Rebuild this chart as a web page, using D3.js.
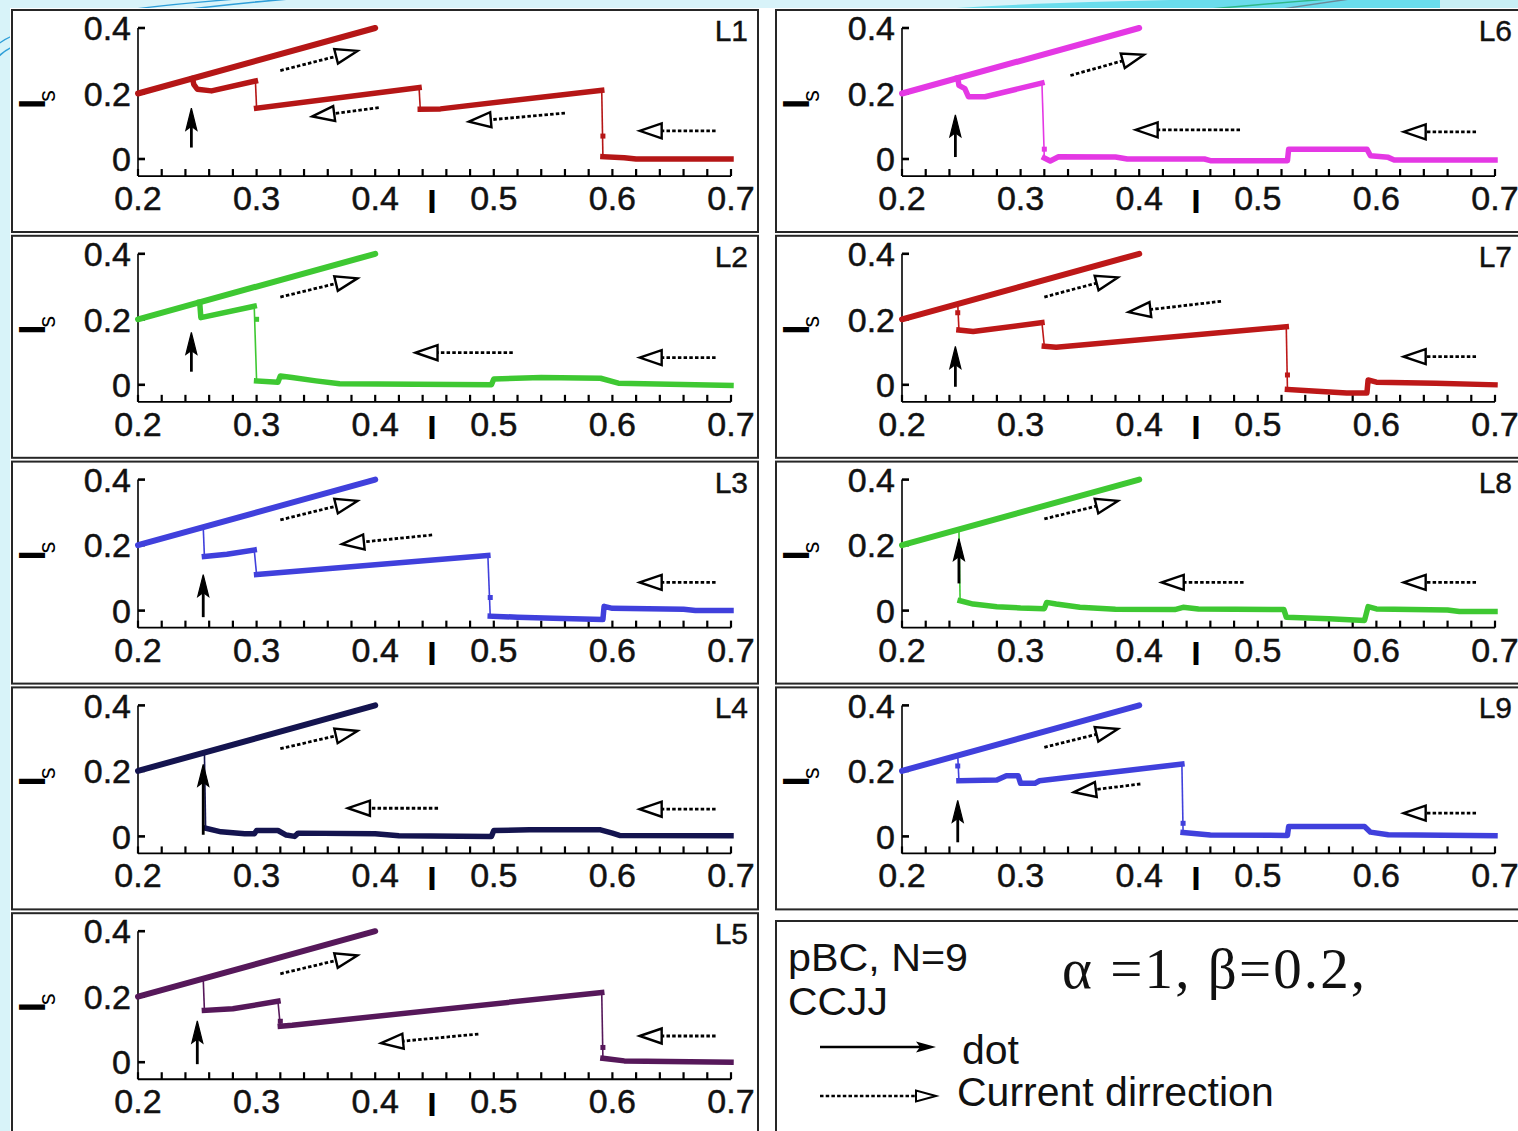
<!DOCTYPE html>
<html>
<head>
<meta charset="utf-8">
<script src="https://cdn.jsdelivr.net/npm/d3@7"></script>
<style>
  html, body { margin: 0; padding: 0; background: #d8f3f9; }
  svg { display: block; }
</style>
</head>
<body>
<svg id="fig" width="1518" height="1131"></svg>
<script>
// ---------------- data ----------------
const panelNames  = ["L1", "L2", "L3", "L4", "L5", "L6", "L7", "L8", "L9"];
const panelColors = ["#b51616", "#3ec832", "#4040dc", "#14144f", "#56185a", "#e438e4", "#bd1818", "#3ec832", "#4040dc"];

const xTicks = [0.2, 0.3, 0.4, 0.5, 0.6, 0.7];
const xTickLabels = ["0.2", "0.3", "0.4", "0.5", "0.6", "0.7"];
const xMinorStep = 0.02;
const yTicks = [0, 0.2, 0.4];
const yTickLabels = ["0", "0.2", "0.4"];

// forward sweep (current increasing), identical for every junction
const sweepUp = [[0.2, 0.2], [0.4, 0.4]];

// backward sweeps (current decreasing), listed in increasing I
const L1_sweepDown = [[0.246,0.246],[0.247,0.228],[0.25,0.213],[0.262,0.208],[0.299,0.238],[0.3,0.155],[0.437,0.218],[0.438,0.152],[0.455,0.153],[0.591,0.21],[0.592,0.007],[0.61,0.004],[0.62,0.0],[0.7,0.0]];
const L2_sweepDown = [[0.252,0.252],[0.253,0.205],[0.298,0.24],[0.3,0.012],[0.318,0.008],[0.32,0.027],[0.33,0.022],[0.35,0.012],[0.37,0.003],[0.498,0.0],[0.5,0.018],[0.54,0.022],[0.59,0.02],[0.605,0.005],[0.7,-0.002]];
const L3_sweepDown = [[0.255,0.255],[0.256,0.165],[0.275,0.172],[0.298,0.185],[0.3,0.11],[0.495,0.168],[0.497,-0.017],[0.52,-0.02],[0.55,-0.023],[0.592,-0.027],[0.593,0.013],[0.6,0.007],[0.66,0.004],[0.67,0.0],[0.7,0.0]];
const L4_sweepDown = [[0.256,0.256],[0.257,0.025],[0.27,0.014],[0.29,0.008],[0.298,0.008],[0.3,0.018],[0.318,0.018],[0.325,0.004],[0.332,0.0],[0.335,0.01],[0.4,0.008],[0.42,0.002],[0.498,0.0],[0.5,0.018],[0.53,0.02],[0.59,0.02],[0.6,0.01],[0.606,0.003],[0.7,0.002]];
const L5_sweepDown = [[0.255,0.255],[0.256,0.158],[0.28,0.163],[0.318,0.186],[0.32,0.11],[0.33,0.113],[0.591,0.213],[0.592,0.012],[0.61,0.004],[0.7,0.0]];
const L6_sweepDown = [[0.247,0.247],[0.248,0.225],[0.253,0.215],[0.256,0.19],[0.27,0.19],[0.318,0.232],[0.32,0.003],[0.325,-0.006],[0.332,0.007],[0.38,0.006],[0.39,0.0],[0.455,0.0],[0.46,-0.005],[0.525,-0.005],[0.526,0.03],[0.592,0.03],[0.595,0.01],[0.61,0.005],[0.615,-0.003],[0.7,-0.003]];
const L7_sweepDown = [[0.247,0.247],[0.248,0.167],[0.26,0.163],[0.318,0.19],[0.32,0.118],[0.33,0.115],[0.524,0.177],[0.525,-0.014],[0.55,-0.02],[0.575,-0.025],[0.592,-0.025],[0.593,0.015],[0.6,0.008],[0.65,0.005],[0.7,0.0]];
const L8_sweepDown = [[0.248,0.248],[0.249,0.03],[0.26,0.02],[0.28,0.012],[0.3,0.008],[0.32,0.006],[0.322,0.025],[0.33,0.02],[0.35,0.01],[0.38,0.004],[0.43,0.003],[0.437,0.01],[0.45,0.005],[0.522,0.003],[0.524,-0.02],[0.56,-0.025],[0.59,-0.03],[0.593,0.012],[0.6,0.005],[0.66,0.002],[0.67,-0.003],[0.7,-0.003]];
const L9_sweepDown = [[0.247,0.247],[0.248,0.17],[0.28,0.172],[0.288,0.185],[0.298,0.185],[0.3,0.162],[0.312,0.162],[0.316,0.17],[0.436,0.221],[0.437,0.012],[0.46,0.004],[0.525,0.003],[0.526,0.03],[0.59,0.03],[0.595,0.013],[0.61,0.005],[0.7,0.002]];

// single samples sitting on the switching lines
const L1_switchDots = [[0.592, 0.07]];
const L2_switchDots = [[0.3, 0.2]];
const L3_switchDots = [[0.497, 0.04]];
const L4_switchDots = [];
const L5_switchDots = [[0.592, 0.045], [0.32, 0.125]];
const L6_switchDots = [[0.32, 0.03]];
const L7_switchDots = [[0.247, 0.22], [0.525, 0.03]];
const L8_switchDots = [];
const L9_switchDots = [[0.247, 0.215], [0.437, 0.04]];

// solid "dot" arrow: [I, Is from, Is to]
const L1_dotArrow = [0.245, 0.035, 0.155];
const L2_dotArrow = [0.245, 0.04, 0.16];
const L3_dotArrow = [0.255, -0.02, 0.11];
const L4_dotArrow = [0.255, 0.005, 0.22];
const L5_dotArrow = [0.25, -0.006, 0.126];
const L6_dotArrow = [0.245, 0.006, 0.135];
const L7_dotArrow = [0.245, -0.006, 0.117];
const L8_dotArrow = [0.248, 0.083, 0.22];
const L9_dotArrow = [0.247, -0.018, 0.11];

// dashed current-direction arrows: [I tail, Is tail, I head, Is head]
const L1_flowArrows = [[0.32,0.27,0.385,0.33],[0.403,0.157,0.347,0.13],[0.56,0.14,0.479,0.114],[0.687,0.086,0.623,0.086]];
const L2_flowArrows = [[0.32,0.268,0.385,0.325],[0.516,0.098,0.434,0.098],[0.687,0.083,0.623,0.083]];
const L3_flowArrows = [[0.32,0.277,0.385,0.335],[0.448,0.231,0.372,0.203],[0.687,0.086,0.623,0.086]];
const L4_flowArrows = [[0.32,0.268,0.385,0.322],[0.453,0.086,0.377,0.086],[0.687,0.083,0.623,0.083]];
const L5_flowArrows = [[0.32,0.27,0.385,0.326],[0.487,0.086,0.405,0.058],[0.687,0.08,0.623,0.08]];
const L6_flowArrows = [[0.342,0.255,0.404,0.318],[0.485,0.089,0.397,0.089],[0.684,0.083,0.623,0.083]];
const L7_flowArrows = [[0.32,0.268,0.382,0.328],[0.469,0.255,0.391,0.222],[0.684,0.086,0.623,0.086]];
const L8_flowArrows = [[0.32,0.28,0.382,0.335],[0.488,0.086,0.419,0.086],[0.684,0.086,0.623,0.086]];
const L9_flowArrows = [[0.32,0.272,0.382,0.328],[0.401,0.16,0.345,0.135],[0.684,0.071,0.623,0.071]];

const sweepDowns  = [L1_sweepDown, L2_sweepDown, L3_sweepDown, L4_sweepDown, L5_sweepDown, L6_sweepDown, L7_sweepDown, L8_sweepDown, L9_sweepDown];
const switchDots  = [L1_switchDots, L2_switchDots, L3_switchDots, L4_switchDots, L5_switchDots, L6_switchDots, L7_switchDots, L8_switchDots, L9_switchDots];
const dotArrows   = [L1_dotArrow, L2_dotArrow, L3_dotArrow, L4_dotArrow, L5_dotArrow, L6_dotArrow, L7_dotArrow, L8_dotArrow, L9_dotArrow];
const flowArrows  = [L1_flowArrows, L2_flowArrows, L3_flowArrows, L4_flowArrows, L5_flowArrows, L6_flowArrows, L7_flowArrows, L8_flowArrows, L9_flowArrows];

// ---------------- layout ----------------
const SANS = "'Liberation Sans', Arial, sans-serif";
const SERIF = "'Liberation Serif', 'Times New Roman', serif";
const colX = [12, 776];
const rowTop = r => 10 + 225.8 * r;
const boxW = 746, boxH = 222;
const yFloor = -0.052;

const svg = d3.select("#fig");

// slide backdrop
svg.append("rect").attr("width", 1518).attr("height", 1131).attr("fill", "#d8f3f9");
svg.append("path").attr("d", "M 900 12 Q 1100 -4 1440 -1 L 1440 12 Z").attr("fill", "#6adcec");
svg.append("rect").attr("x", 1440).attr("y", 0).attr("width", 78).attr("height", 12).attr("fill", "#c8eff5");
svg.append("path").attr("d", "M 1180 12 Q 1260 4 1330 -1").attr("fill", "none").attr("stroke", "#2fb88a").attr("stroke-width", 1.4);
svg.append("path").attr("d", "M 1250 14 Q 1300 6 1350 -1").attr("fill", "none").attr("stroke", "#6b8a99").attr("stroke-width", 1.4);
svg.append("path").attr("d", "M -4 60 Q 18 22 300 -2").attr("fill", "none").attr("stroke", "#2e9ed8").attr("stroke-width", 1.6);
svg.append("path").attr("d", "M -4 46 Q 30 14 250 -2").attr("fill", "none").attr("stroke", "#2e9ed8").attr("stroke-width", 1.3);

// figure sheet
svg.append("rect").attr("x", 10).attr("y", 8).attr("width", 1520).attr("height", 1140).attr("fill", "#ffffff");

const x = d3.scaleLinear().domain([0.2, 0.7]).range([126, 719]);
const y = d3.scaleLinear().domain([0, 0.4]).range([149, 18]);
const line = d3.line().x(d => x(d[0])).y(d => y(d[1]));

// split a sweep into continuous runs and thin switching jumps
function splitSweep(pts) {
  const runs = [[pts[0]]], jumps = [];
  for (let i = 1; i < pts.length; i++) {
    const a = pts[i - 1], b = pts[i];
    if (Math.abs(b[0] - a[0]) <= 0.0025 && Math.abs(b[1] - a[1]) > 0.05) {
      jumps.push([a, b]);
      runs.push([b]);
    } else {
      runs[runs.length - 1].push(b);
    }
  }
  return { runs: runs.filter(r => r.length > 1), jumps };
}

function flowArrow(g, a) {
  const x1 = x(a[0]), y1 = y(a[1]), x2 = x(a[2]), y2 = y(a[3]);
  const ang = Math.atan2(y2 - y1, x2 - x1);
  const len = 22, hw = 7.5;
  const bx = x2 - len * Math.cos(ang), by = y2 - len * Math.sin(ang);
  g.append("line").attr("x1", x1).attr("y1", y1).attr("x2", bx).attr("y2", by)
    .attr("stroke", "#000").attr("stroke-width", 2.8).attr("stroke-dasharray", "3.5,2.2");
  const px = -Math.sin(ang), py = Math.cos(ang);
  g.append("path")
    .attr("d", `M${x2},${y2} L${bx + px * hw},${by + py * hw} L${bx - px * hw},${by - py * hw} Z`)
    .attr("fill", "#fff").attr("stroke", "#000").attr("stroke-width", 2.4).attr("stroke-linejoin", "miter");
}

function dotArrow(g, a) {
  const xx = x(a[0]), yb = y(a[1]), yt = y(a[2]);
  g.append("line").attr("x1", xx).attr("x2", xx).attr("y1", yb).attr("y2", yt + 14)
    .attr("stroke", "#000").attr("stroke-width", 2.8);
  g.append("path").attr("d", `M${xx},${yt} L${xx + 5.5},${yt + 22} L${xx},${yt + 18} L${xx - 5.5},${yt + 22} Z`)
    .attr("fill", "#000").attr("stroke", "#000").attr("stroke-width", 1.2);
}

panelNames.forEach((name, i) => {
  const col = i < 5 ? 0 : 1, row = i < 5 ? i : i - 5;
  const color = panelColors[i];
  const g = svg.append("g").attr("transform", `translate(${colX[col]},${rowTop(row)})`);

  g.append("rect").attr("x", 0).attr("y", 0).attr("width", boxW).attr("height", boxH)
    .attr("fill", "#fff").attr("stroke", "#262626").attr("stroke-width", 2);

  // axes
  const ax = g.append("g").attr("stroke", "#000");
  ax.append("line").attr("x1", x(0.2)).attr("x2", x(0.7)).attr("y1", y(yFloor)).attr("y2", y(yFloor)).attr("stroke-width", 1.8);
  ax.append("line").attr("x1", x(0.2)).attr("x2", x(0.2)).attr("y1", y(0.4)).attr("y2", y(yFloor)).attr("stroke-width", 1.6);
  d3.range(0, 26).map(k => 0.2 + k * xMinorStep).forEach(v => {
    ax.append("line").attr("x1", x(v)).attr("x2", x(v)).attr("y1", y(yFloor)).attr("y2", y(yFloor) - 7).attr("stroke-width", 2.2);
  });
  yTicks.forEach(v => {
    ax.append("line").attr("x1", x(0.2)).attr("x2", x(0.2) + 7).attr("y1", y(v)).attr("y2", y(v)).attr("stroke-width", 2.6);
  });

  g.selectAll("text.xt").data(xTicks).join("text").attr("class", "xt")
    .attr("x", d => x(d)).attr("y", y(yFloor) + 34).attr("text-anchor", "middle")
    .attr("font-family", SANS).attr("font-size", 34).attr("fill", "#111")
    .attr("stroke", "#111").attr("stroke-width", 0.5)
    .text((d, k) => xTickLabels[k]);
  g.selectAll("text.yt").data(yTicks).join("text").attr("class", "yt")
    .attr("x", x(0.2) - 7).attr("y", d => y(d)).attr("dy", "0.36em").attr("text-anchor", "end")
    .attr("font-family", SANS).attr("font-size", 34).attr("fill", "#111")
    .attr("stroke", "#111").attr("stroke-width", 0.5)
    .text((d, k) => yTickLabels[k]);

  // axis titles
  g.append("text").attr("x", 420).attr("y", 203).attr("text-anchor", "middle")
    .attr("font-family", SANS).attr("font-weight", "bold").attr("font-size", 34).text("I");
  const yl = g.append("text").attr("transform", "translate(33,99) rotate(-90)")
    .attr("font-family", SANS).attr("font-size", 37);
  yl.append("tspan").attr("font-weight", "bold").text("I");
  yl.append("tspan").attr("font-size", 23).attr("dy", 10).attr("dx", -3).text("s");

  // junction label
  g.append("text").attr("x", 736).attr("y", 31).attr("text-anchor", "end")
    .attr("font-family", SANS).attr("font-size", 30).attr("fill", "#111")
    .attr("stroke", "#111").attr("stroke-width", 0.4).text(name);

  // curves
  const down = splitSweep(sweepDowns[i]);
  g.selectAll("line.jump").data(down.jumps).join("line").attr("class", "jump")
    .attr("x1", d => x(d[0][0])).attr("y1", d => y(d[0][1]))
    .attr("x2", d => x(d[1][0])).attr("y2", d => y(d[1][1]))
    .attr("stroke", color).attr("stroke-width", 1.6);
  g.append("path").attr("d", line(sweepUp)).attr("fill", "none")
    .attr("stroke", color).attr("stroke-width", 6).attr("stroke-linecap", "round");
  g.selectAll("path.run").data(down.runs).join("path").attr("class", "run")
    .attr("d", line).attr("fill", "none").attr("stroke", color)
    .attr("stroke-width", 5.5).attr("stroke-linejoin", "round").attr("stroke-linecap", "square");
  g.selectAll("rect.sd").data(switchDots[i]).join("rect").attr("class", "sd")
    .attr("x", d => x(d[0]) - 2.5).attr("y", d => y(d[1]) - 2.5).attr("width", 5).attr("height", 5)
    .attr("fill", color);

  // annotations
  dotArrow(g, dotArrows[i]);
  flowArrows[i].forEach(a => flowArrow(g, a));
});

// legend / parameter box
const lg = svg.append("g").attr("transform", "translate(776,921)");
lg.append("rect").attr("width", boxW).attr("height", 240).attr("fill", "#fff")
  .attr("stroke", "#262626").attr("stroke-width", 2);
lg.append("text").attr("x", 12).attr("y", 50).attr("font-family", SANS).attr("font-size", 39).attr("fill", "#111")
  .attr("textLength", 180).attr("lengthAdjust", "spacingAndGlyphs").text("pBC, N=9");
lg.append("text").attr("x", 12).attr("y", 94).attr("font-family", SANS).attr("font-size", 39).attr("fill", "#111")
  .attr("textLength", 100).attr("lengthAdjust", "spacingAndGlyphs").text("CCJJ");
lg.append("text").attr("x", 286).attr("y", 67).attr("font-family", SERIF).attr("font-size", 57).attr("fill", "#111")
  .attr("textLength", 303).attr("lengthAdjust", "spacing").text("α =1, β=0.2,");

lg.append("line").attr("x1", 44).attr("x2", 146).attr("y1", 126).attr("y2", 126).attr("stroke", "#000").attr("stroke-width", 2.6);
lg.append("path").attr("d", "M160,126 L140,120.5 L144,126 L140,131.5 Z").attr("fill", "#000");
lg.append("text").attr("x", 186).attr("y", 143).attr("font-family", SANS).attr("font-size", 41).attr("fill", "#111").text("dot");

lg.append("line").attr("x1", 44).attr("x2", 140).attr("y1", 175).attr("y2", 175).attr("stroke", "#000").attr("stroke-width", 2.6).attr("stroke-dasharray", "3.5,2.2");
lg.append("path").attr("d", "M160,175 L140,169.5 L140,180.5 Z").attr("fill", "#fff").attr("stroke", "#000").attr("stroke-width", 2);
lg.append("text").attr("x", 181).attr("y", 185).attr("font-family", SANS).attr("font-size", 41).attr("fill", "#111").text("Current dirrection");
</script>
</body>
</html>
